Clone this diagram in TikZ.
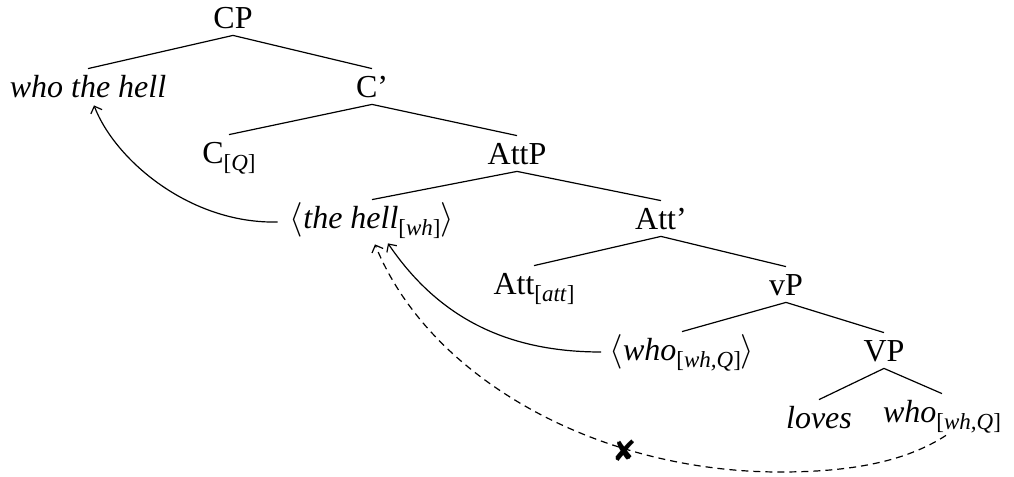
\documentclass[tikz,border=0pt]{standalone}
\usepackage{fontspec}
\setmainfont{Liberation Serif}
\newfontfamily\symfont{DejaVu Sans}
\usetikzlibrary{calc,arrows.meta}
\newcommand\subx[1]{\raisebox{-3.8pt}{\fontsize{11.5}{12}\selectfont #1}}
\begin{document}
\begin{tikzpicture}[x=0.5pt,y=-0.5pt,
  tn/.style={font=\fontsize{16}{18}\selectfont, inner sep=0pt, text height=14pt, text depth=3.5pt, anchor=base},
  edge/.style={line width=0.6pt},
  mv/.style={line width=0.6pt, -{Straight Barb[length=3pt,width=6pt]}},
  mvd/.style={mv, dash pattern=on 3.5pt off 2.5pt},
  xmark/.style={font=\symfont\fontsize{14.5}{15}\selectfont, inner sep=0pt}]
\useasboundingbox (0,0) rectangle (1014,477);
\node[tn] (cp) at (233,28) {CP};
\node[tn] (wth) at (88,97) {\itshape who the hell};
\node[tn] (cb) at (372,97) {C’};
\node[tn] (cq) at (229,163) {C\subx{[\textit{Q}]}};
\node[tn] (attp) at (517,164) {AttP};
\node[tn] (th) at (372,228) {$\langle$\textit{the hell}\subx{[\textit{wh}]}$\rangle$};
\node[tn] (attb) at (661,229) {Att’};
\node[tn] (att) at (534,294) {Att\subx{[\textit{att}]}};
\node[tn] (vp) at (786,295) {vP};
\node[tn] (wq) at (682,360) {$\langle$\textit{who}\subx{[\textit{wh,Q}]}$\rangle$};
\node[tn] (VP) at (884,361) {VP};
\node[tn] (loves) at (819,428) {\itshape loves};
\node[tn] (who) at (942,422) {\textit{who}\subx{[\textit{wh,Q}]}};
\draw[edge] (cp.south) -- (wth.north);
\draw[edge] (cp.south) -- (cb.north);
\draw[edge] (cb.south) -- (cq.north);
\draw[edge] (cb.south) -- (attp.north);
\draw[edge] (attp.south) -- (th.north);
\draw[edge] (attp.south) -- (attb.north);
\draw[edge] (attb.south) -- (att.north);
\draw[edge] (attb.south) -- (vp.north);
\draw[edge] (vp.south) -- (wq.north);
\draw[edge] (vp.south) -- (VP.north);
\draw[edge] (VP.south) -- (loves.north);
\draw[edge] (VP.south) -- (who.north);
\draw[mv] ($(th.base west)+(-12,-6)$) .. controls (190,224) and (115,160) .. ($(wth.south)+(6,1)$);
\draw[mv] ($(wq.base west)+(-8,-8)$) .. controls (510,352) and (440,320) .. ($(th.south)+(16,8)$);
\draw[mvd] ($(who.south)+(4,6)$) .. controls (905,462) and (850,472) .. (780,472) .. controls (600,472) and (430,380) .. ($(th.south)+(3,9)$);
\node[xmark] (x) at (625,451) {✘};
\end{tikzpicture}
\end{document}
